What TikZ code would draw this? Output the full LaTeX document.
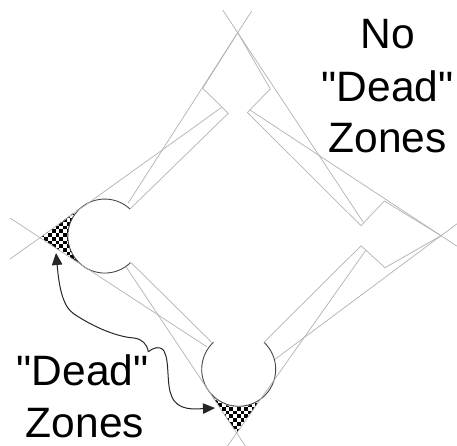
\documentclass[tikz,border=0pt]{standalone}
\usepackage{fontspec}
\newfontfamily\labelfont{Liberation Sans}
\usetikzlibrary{arrows.meta}
\tikzset{
  thin line/.style={draw=black!30,line width=0.7pt,line join=miter},
  circle arc/.style={draw=black!72,line width=0.9pt},
  big label/.style={font=\labelfont\fontsize{42.5}{42.5}\selectfont,anchor=base,inner sep=0pt,text=black},
  callout/.style={draw=black!85,line width=1pt,-{Triangle[length=12pt,width=10.5pt]}}
}
\begin{document}
\begin{tikzpicture}[x=1pt,y=-1pt]
\useasboundingbox (0,0) rectangle (457,446);
\fill[white] (0,0) rectangle (457,446);
% apexes
\coordinate (top) at (237.7,32.7);
\coordinate (left) at (40,237.7);
\coordinate (right) at (441,235.7);
\coordinate (bot) at (236.7,433);
% circle centres
\coordinate (cL) at (105,236);
\coordinate (cB) at (238,370);
% checker zones
\begin{scope}
  \clip (left) -- (83,206) -- (85,267) -- cycle;
  \foreach \i in {10,...,24}{\foreach \j in {54,...,74}{%
    \pgfmathtruncatemacro{\pp}{mod(\i+\j,2)}%
    \ifnum\pp=0\relax\fill[black] (\i*3.7,\j*3.7) rectangle ++(3.7,3.7);\fi}}
\end{scope}
\begin{scope}
  \clip (bot) -- (208,390) -- (267,390) -- cycle;
  \foreach \i in {54,...,74}{\foreach \j in {103,...,118}{%
    \pgfmathtruncatemacro{\pp}{mod(\i+\j,2)}%
    \ifnum\pp=0\relax\fill[black] (\i*3.7,\j*3.7) rectangle ++(3.7,3.7);\fi}}
\end{scope}
\fill[white] (cL) circle[radius=37pt];
\fill[white] (cB) circle[radius=37pt];
% circle arcs
\coordinate (Lu) at (130,209);
\coordinate (Ld) at (130.7,262.3);
\coordinate (Bl) at (211.7,342.3);
\coordinate (Br) at (264,342.3);
\draw[circle arc] (Lu) arc[start angle=47,end angle=314,radius=37pt];
\draw[circle arc] (Br) arc[start angle=46.8,end angle=-227,radius=37pt];
% notch corners
\coordinate (n1) at (202.7,88.3);
\coordinate (n2) at (228.3,113.3);
\coordinate (n3) at (270.3,89);
\coordinate (n4) at (247.3,112.5);
\coordinate (n5) at (384.3,201);
\coordinate (n6) at (361,225.7);
\coordinate (n7) at (361,245.8);
\coordinate (n8) at (385,267.7);
% outlines
\draw[thin line] (top) -- (n1) -- (n2) -- (Lu);
\draw[thin line] (top) -- (n3) -- (n4) -- (n6) -- (n5) -- (right);
\draw[thin line] (right) -- (n8) -- (n7) -- (Br);
\draw[thin line] (Ld) -- (Bl);
% long tangents crossing at the apexes
\coordinate (a1) at (221.7,107.3);
\coordinate (a2) at (128,203.3);
\coordinate (a3) at (363.3,222.3);
\coordinate (a4) at (250,110);
\coordinate (a5) at (366,250);
\coordinate (a6) at (275,359.3);
\coordinate (a7) at (126,266.7);
\coordinate (a8) at (206.7,346.7);
\coordinate (e1) at (10,259);
\coordinate (e2) at (10,218);
\coordinate (e3) at (251.7,11);
\coordinate (e4) at (222.7,10);
\coordinate (e5) at (457,223.8);
\coordinate (e6) at (457,246.2);
\coordinate (e7) at (245.4,446);
\coordinate (e8) at (227.5,446);
\draw[thin line] (a1) -- (left) -- (e1);
\draw[thin line] (a8) -- (left) -- (e2);
\draw[thin line] (a2) -- (top) -- (e3);
\draw[thin line] (a3) -- (top) -- (e4);
\draw[thin line] (a4) -- (right) -- (e5);
\draw[thin line] (a6) -- (right) -- (e6);
\draw[thin line] (a7) -- (bot) -- (e7);
\draw[thin line] (a5) -- (bot) -- (e8);
% labels
\node[big label] (no) at (388,48.3) {No};
\node[big label] (dead1) at (387.5,101.7) {"Dead"};
\node[big label] (zones1) at (387.5,153) {Zones};
\node[big label] (dead2) at (82.5,385) {"Dead"};
\node[big label] (zones2) at (85,437.5) {Zones};
% callout
\coordinate (tipL) at (56,253);
\coordinate (tipB) at (215,408);
\coordinate (kink) at (148.3,351.7);
\draw[callout] (kink) .. controls (147,344) and (142,339) .. (134,338)
  .. controls (118,337) and (95,328) .. (74,314)
  .. controls (62,306) and (59,285) .. (tipL);
\draw[callout] (kink) .. controls (153,348) and (160,345) .. (164,351)
  .. controls (170,362) and (166,385) .. (172,397)
  .. controls (178,411) and (195,409) .. (tipB);
\end{tikzpicture}
\end{document}
